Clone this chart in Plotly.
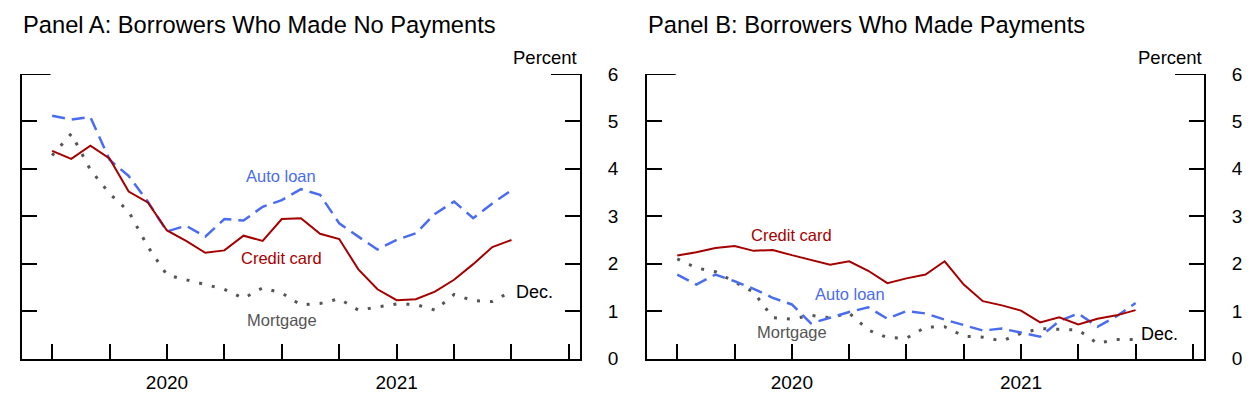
import plotly.graph_objects as go

# Monthly index 0..24 (Dec 2019 .. Dec 2021)
months = list(range(25))
year_ticks = [6, 18]
year_labels = ["2020", "2021"]

# Panel A: borrowers who made no payments (percent)
a_credit = [4.38, 4.21, 4.49, 4.22, 3.52, 3.29, 2.70, 2.48, 2.23, 2.28, 2.59, 2.48, 2.94,
            2.96, 2.63, 2.52, 1.88, 1.46, 1.23, 1.25, 1.41, 1.66, 1.99, 2.35, 2.50]
a_auto = [5.12, 5.04, 5.09, 4.19, 3.85, 3.31, 2.68, 2.80, 2.57, 2.94, 2.91, 3.20, 3.34,
          3.57, 3.45, 2.85, 2.57, 2.30, 2.50, 2.64, 3.05, 3.31, 2.96, 3.27, 3.55]
a_mort = [4.28, 4.74, 3.98, 3.48, 3.10, 2.36, 1.76, 1.66, 1.57, 1.46, 1.27, 1.49, 1.38,
          1.13, 1.16, 1.26, 1.02, 1.09, 1.15, 1.14, 1.02, 1.35, 1.22, 1.20, 1.42]

# Panel B: borrowers who made payments (percent)
b_credit = [2.17, 2.24, 2.33, 2.37, 2.27, 2.29, 2.18, 2.08, 1.98, 2.05, 1.85, 1.59, 1.69,
            1.77, 2.05, 1.56, 1.21, 1.12, 1.01, 0.76, 0.87, 0.72, 0.84, 0.91, 1.02]
b_auto = [1.77, 1.56, 1.77, 1.63, 1.47, 1.28, 1.14, 0.74, 0.86, 0.98, 1.08, 0.84, 1.00,
          0.95, 0.82, 0.70, 0.59, 0.63, 0.54, 0.46, 0.79, 0.95, 0.67, 0.89, 1.17]
b_mort = [2.10, 1.91, 1.83, 1.61, 1.40, 0.86, 0.83, 0.91, 0.86, 0.96, 0.60, 0.44, 0.43,
          0.66, 0.67, 0.47, 0.45, 0.37, 0.53, 0.63, 0.61, 0.60, 0.32, 0.40, 0.40]

RED = "#a50000"
BLUE = "#4a6cf0"
GRAY = "#555555"
FONT = "Liberation Sans, Arial, sans-serif"

fig = go.Figure()

def add_panel(xa, ya, credit, auto, mort):
    fig.add_trace(go.Scatter(x=months, y=mort, mode="lines", xaxis=xa, yaxis=ya,
                             line=dict(color=GRAY, width=3, dash="3px,10px"), showlegend=False))
    fig.add_trace(go.Scatter(x=months, y=auto, mode="lines", xaxis=xa, yaxis=ya,
                             line=dict(color=BLUE, width=2.5, dash="13px,7px"), showlegend=False))
    fig.add_trace(go.Scatter(x=months, y=credit, mode="lines", xaxis=xa, yaxis=ya,
                             line=dict(color=RED, width=2), showlegend=False))

add_panel("x", "y", a_credit, a_auto, a_mort)
add_panel("x2", "y2", b_credit, b_auto, b_mort)

W, H = 1259, 398
domA = [21.5 / W, 580 / W]
domB = [646.7 / W, 1204 / W]
ydom = [(H - 358.5) / H, (H - 74) / H]
xr = [-1.6, 27.58]

xcommon = dict(range=xr, showline=True, linewidth=2, linecolor="black", mirror=False,
               showgrid=False, zeroline=False, tickmode="array", tickvals=year_ticks,
               ticktext=year_labels, ticks="inside", ticklen=15, tickwidth=2, tickcolor="black",
               minor=dict(tick0=0, dtick=3, ticks="inside", ticklen=15, tickwidth=2,
                          tickcolor="black", showgrid=False),
               tickfont=dict(family=FONT, size=19, color="black"), ticklabelstandoff=6,
               automargin=False, fixedrange=True)
ycommon = dict(range=[0, 6], side="right", showline=True, linewidth=2, linecolor="black",
               mirror="ticks", showgrid=False, zeroline=False, tickmode="array",
               tickvals=[0, 1, 2, 3, 4, 5, 6], ticks="inside", ticklen=15, tickwidth=2,
               tickcolor="black", tickfont=dict(family=FONT, size=19, color="black"),
               ticklabelstandoff=22, automargin=False, domain=ydom, fixedrange=True)

fig.update_layout(
    width=W, height=H, margin=dict(l=0, r=0, t=0, b=0),
    paper_bgcolor="white", plot_bgcolor="white",
    xaxis=dict(domain=domA, anchor="y", **xcommon),
    yaxis=dict(anchor="x", **ycommon),
    xaxis2=dict(domain=domB, anchor="y2", **xcommon),
    yaxis2=dict(anchor="x2", **ycommon),
    font=dict(family=FONT),
)

# long top ticks at 6
for xr_, yr_ in (("x domain", "y"), ("x2 domain", "y2")):
    f = 29 / 558
    fig.add_shape(type="line", xref=xr_, yref=yr_, x0=0, x1=f, y0=6, y1=6,
                  line=dict(color="black", width=2))
    fig.add_shape(type="line", xref=xr_, yref=yr_, x0=1 - f, x1=1, y0=6, y1=6,
                  line=dict(color="black", width=2))

ann = []
def txt(x, y, s, color, xref="paper", yref="paper", xanchor="center", size=16.5, yanchor="middle"):
    ann.append(dict(x=x, y=y, xref=xref, yref=yref, text=s, showarrow=False,
                    xanchor=xanchor, yanchor=yanchor,
                    font=dict(family=FONT, size=size, color=color)))

# titles
txt(21 / W, (H - 25) / H, "Panel A: Borrowers Who Made No Payments", "black", xanchor="left", size=23.7)
txt(646 / W, (H - 25) / H, "Panel B: Borrowers Who Made Payments", "black", xanchor="left", size=23.7)
# unit labels
txt(579 / W, (H - 57) / H, "Percent", "black", xanchor="right", size=18.5)
txt(1204 / W, (H - 57) / H, "Percent", "black", xanchor="right", size=18.5)

# series labels panel A
txt(11.95, 3.85, "Auto loan", BLUE, "x", "y")
txt(12.0, 2.13, "Credit card", RED, "x", "y")
txt(12.0, 0.81, "Mortgage", GRAY, "x", "y")
txt(24.15, 1.40, "Dec.", "black", "x", "y", xanchor="left", size=18)
# series labels panel B
txt(6.0, 2.61, "Credit card", RED, "x2", "y2")
txt(9.03, 1.37, "Auto loan", BLUE, "x2", "y2")
txt(6.0, 0.55, "Mortgage", GRAY, "x2", "y2")
txt(24.2, 0.51, "Dec.", "black", "x2", "y2", xanchor="left", size=18)

fig.update_layout(annotations=ann)
fig.write_html("out.html", config={"displayModeBar": False},
               post_script="document.body.style.margin='0';document.body.style.padding='0';")
